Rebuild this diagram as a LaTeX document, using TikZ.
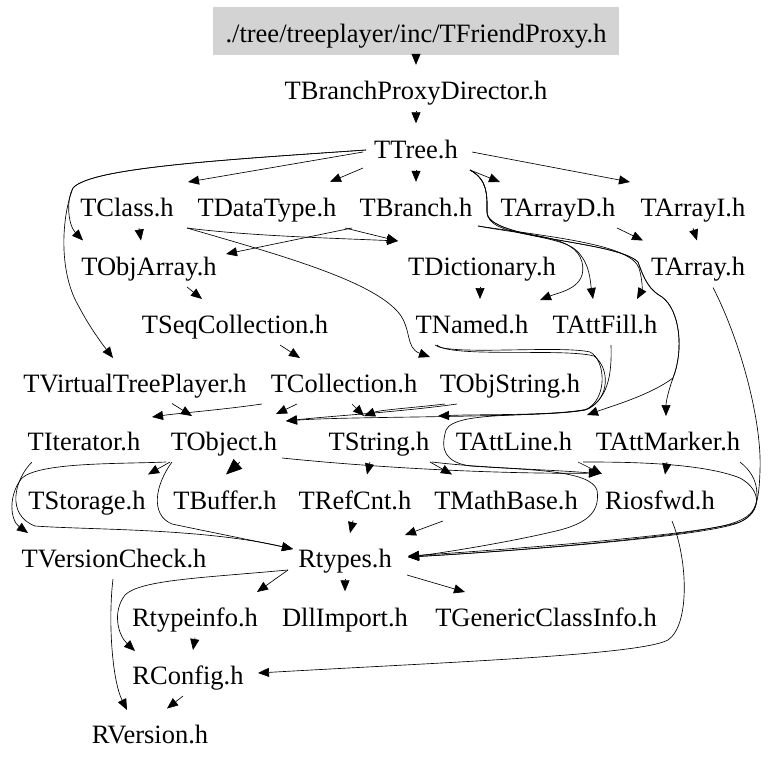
\documentclass[tikz,border=0pt]{standalone}
\usepackage{fontspec}
\setmainfont{Liberation Serif}
\usetikzlibrary{arrows.meta}
\definecolor{rootgray}{RGB}{211,211,211}
\begin{document}
\begin{tikzpicture}[x=1pt,y=-1pt,
  nd/.style={font=\fontsize{26.5}{30}\selectfont, text height=24pt, text depth=0.5pt, inner ysep=10.75pt, inner xsep=3pt},
  e/.style={draw, line width=0.65pt, -{Triangle[length=11pt,width=9pt]}},
  eb/.style={draw, line width=0.65pt, -{Triangle[length=16pt,width=13pt]}}]
\fill[white] (0,0) rectangle (775,763);
\useasboundingbox (0,0) rectangle (775,763);
\node[fill=rootgray, font=\fontsize{26.5}{30}\selectfont, text height=24pt, text depth=0.5pt, minimum width=406pt, minimum height=48pt, inner sep=0pt] (root) at (416,31) {./tree/treeplayer/inc/TFriendProxy.h};
\node[nd] (tbpd) at (416,88) {TBranchProxyDirector.h};
\node[nd] (ttree) at (416,146.5) {TTree.h};
\node[nd] (tclass) at (127,205) {TClass.h};
\node[nd] (tdatatype) at (267,205) {TDataType.h};
\node[nd] (tbranch) at (416,205) {TBranch.h};
\node[nd] (tarrayd) at (558,205) {TArrayD.h};
\node[nd] (tarrayi) at (693,205) {TArrayI.h};
\node[nd] (tobjarray) at (149,263.5) {TObjArray.h};
\node[nd] (tdict) at (482,263.5) {TDictionary.h};
\node[nd] (tarray) at (698,263.5) {TArray.h};
\node[nd] (tseq) at (235,322) {TSeqCollection.h};
\node[nd] (tnamed) at (472,322) {TNamed.h};
\node[nd] (tattfill) at (605,322) {TAttFill.h};
\node[nd] (tvtp) at (135,380.5) {TVirtualTreePlayer.h};
\node[nd] (tcoll) at (344,380.5) {TCollection.h};
\node[nd] (tobjstr) at (510,380.5) {TObjString.h};
\node[nd] (titer) at (84,439) {TIterator.h};
\node[nd] (tobject) at (224,439) {TObject.h};
\node[nd] (tstring) at (379,439) {TString.h};
\node[nd] (tattline) at (514,439) {TAttLine.h};
\node[nd] (tattmarker) at (668,439) {TAttMarker.h};
\node[nd] (tstorage) at (87,497.5) {TStorage.h};
\node[nd] (tbuffer) at (225,497.5) {TBuffer.h};
\node[nd] (trefcnt) at (355,497.5) {TRefCnt.h};
\node[nd] (tmathbase) at (506,497.5) {TMathBase.h};
\node[nd] (riosfwd) at (660,497.5) {Riosfwd.h};
\node[nd] (tversion) at (114,556) {TVersionCheck.h};
\node[nd] (rtypes) at (345,556) {Rtypes.h};
\node[nd] (rtypeinfo) at (195,614.5) {Rtypeinfo.h};
\node[nd] (dllimport) at (345,614.5) {DllImport.h};
\node[nd] (tgeneric) at (546,614.5) {TGenericClassInfo.h};
\node[nd] (rconfig) at (188,673) {RConfig.h};
\node[nd] (rversion) at (150,731.5) {RVersion.h};

% edges
\draw[e] (root.south) -- (tbpd.north);
\draw[e] (tbpd.south) -- (ttree.north);
\draw[e] ([shift={(-53,5.5)}]ttree.center) -- ([shift={(61,-23)}]tclass.center);
\draw[e] ([shift={(-53,21.5)}]ttree.center) -- ([shift={(63,-23)}]tdatatype.center);
\draw[e] (ttree.south) -- (tbranch.north);
\draw[e] ([shift={(54,23.5)}]ttree.center) -- ([shift={(-58,-23)}]tarrayd.center);
\draw[e] ([shift={(56,5.5)}]ttree.center) -- ([shift={(-63,-23)}]tarrayi.center);
\draw[e] ([shift={(-50,3.5)}]ttree.center) .. controls (220,160) and (90,168) .. (73,188) .. controls (66,200) and (68,225) .. ([shift={(-66,-23)}]tobjarray.center);
\draw[e] ([shift={(-50,3.5)}]ttree.center) .. controls (220,160) and (90,168) .. (73,188) .. controls (62,215) and (58,270) .. (78,305) .. controls (90,328) and (103,345) .. ([shift={(-22,-22.5)}]tvtp.center);
\draw[e] ([shift={(12,23)}]tclass.center) -- ([shift={(-8,-23)}]tobjarray.center);
\draw[e] ([shift={(60,23)}]tclass.center) .. controls (250,236) and (330,238) .. ([shift={(-84,-22.5)}]tdict.center);
\draw[e] ([shift={(60,23)}]tclass.center) .. controls (280,255) and (370,280) .. (398,312) .. controls (412,328) and (405,348) .. ([shift={(-80,-23.5)}]tobjstr.center);
\draw[e] ([shift={(-64,23)}]tbranch.center) -- ([shift={(77,-9.5)}]tobjarray.center);
\draw[e] ([shift={(78,23)}]tdatatype.center) -- ([shift={(-84,-22.5)}]tdict.center);
\draw[e] ([shift={(-2,23)}]tdict.center) -- ([shift={(8,-23)}]tnamed.center);
\draw[e] ([shift={(59,23)}]tarrayd.center) -- ([shift={(-55,-23)}]tarray.center);
\draw[e] (tarrayi.south) -- ([shift={(-1,-23)}]tarray.center);
\draw[e] ([shift={(38,23.5)}]tobjarray.center) -- ([shift={(-33,-23)}]tseq.center);
\draw[e] ([shift={(45,23)}]tseq.center) -- ([shift={(-44,-22.5)}]tcoll.center);
\draw[e] ([shift={(54,23.5)}]ttree.center) .. controls (488,180) and (487,195) .. (487,212) .. controls (487,238) and (560,232) .. (578,252) .. controls (590,265) and (590,280) .. ([shift={(-12,-23)}]tattfill.center);
\draw[e] ([shift={(62,21)}]tbranch.center) .. controls (530,236) and (575,235) .. (582,262) .. controls (588,288) and (560,292) .. ([shift={(68,-22)}]tnamed.center);
\draw[e] ([shift={(62,21)}]tbranch.center) .. controls (560,238) and (630,245) .. (639,268) .. controls (643,282) and (642,290) .. ([shift={(32,-23)}]tattfill.center);
\draw[e] ([shift={(54,23.5)}]ttree.center) .. controls (488,180) and (487,195) .. (487,212) .. controls (487,240) and (615,240) .. (638,262) .. controls (645,282) and (650,290) .. (662,297) .. controls (680,310) and (684,350) .. (673,378) .. controls (668,392) and (666,402) .. ([shift={(-2,-23)}]tattmarker.center);
\draw[e] ([shift={(54,23.5)}]ttree.center) .. controls (488,180) and (487,195) .. (487,212) .. controls (487,240) and (615,240) .. (638,262) .. controls (645,282) and (650,290) .. (662,297) .. controls (680,310) and (684,350) .. (673,378) .. controls (650,395) and (615,405) .. ([shift={(73,-24)}]tattline.center);
\draw[e] ([shift={(37,23)}]tvtp.center) -- ([shift={(-32,-23)}]tobject.center);
\draw[e] ([shift={(-82,23.5)}]tcoll.center) .. controls (220,410) and (180,413) .. ([shift={(68,-22)}]titer.center);
\draw[e] ([shift={(-47,23.5)}]tcoll.center) -- ([shift={(52,-25)}]tobject.center);
\draw[e] ([shift={(8,23.5)}]tcoll.center) -- ([shift={(-15,-23)}]tstring.center);
\draw[e] ([shift={(-65,23.5)}]tobjstr.center) .. controls (410,408) and (380,410) .. ([shift={(-15,-23)}]tstring.center);
\draw[e] ([shift={(-53,23.5)}]tobjstr.center) .. controls (400,412) and (330,416) .. ([shift={(62,-18)}]tobject.center);
\draw[e] ([shift={(-37,23)}]tnamed.center) .. controls (448,356) and (560,345) .. (590,352) .. controls (606,360) and (608,400) .. (585,410) .. controls (540,418) and (350,416) .. ([shift={(62,-18)}]tobject.center);
\draw[e] ([shift={(-35,23)}]tnamed.center) .. controls (450,358) and (565,348) .. (594,356) .. controls (610,368) and (610,398) .. (588,409) .. controls (555,416) and (480,414) .. ([shift={(59,-23)}]tstring.center);
\draw[e] ([shift={(6,23)}]tattfill.center) .. controls (612,375) and (608,400) .. (585,410) .. controls (540,418) and (455,410) .. (446,430) .. controls (440,450) and (445,462) .. (470,466) .. controls (530,470) and (590,470) .. (597,490) .. controls (600,510) and (590,522) .. (560,530) .. controls (520,540) and (450,552) .. ([shift={(63,1)}]rtypes.center);
\draw[e] ([shift={(69,23)}]tattline.center) .. controls (620,462) and (700,462) .. (740,478) .. controls (762,490) and (762,512) .. (740,522) .. controls (700,535) and (500,550) .. ([shift={(63,0)}]rtypes.center);
\draw[e] ([shift={(72,23)}]tattmarker.center) .. controls (750,470) and (757,480) .. (757,495) .. controls (757,510) and (750,518) .. (730,524) .. controls (680,538) and (500,552) .. ([shift={(63,1)}]rtypes.center);
\draw[e] ([shift={(15,24)}]tarray.center) .. controls (740,340) and (762,420) .. (760,470) .. controls (759,505) and (755,517) .. (735,524) .. controls (690,538) and (500,552) .. ([shift={(63,1)}]rtypes.center);
\draw[e] ([shift={(-1,23)}]tattmarker.center) -- ([shift={(5,-23)}]riosfwd.center);
\draw[e] ([shift={(58,19)}]tobject.center) .. controls (400,470) and (520,474) .. ([shift={(-60,-24.5)}]riosfwd.center);
\draw[e] ([shift={(-9,23)}]tstring.center) -- ([shift={(12,-23)}]trefcnt.center);
\draw[e] ([shift={(51,23)}]tstring.center) -- ([shift={(-54,-23)}]tmathbase.center);
\draw[e] ([shift={(53,23)}]tstring.center) .. controls (480,468) and (560,470) .. ([shift={(-60,-23.5)}]riosfwd.center);
\draw[e] ([shift={(64,23)}]tattline.center) -- ([shift={(-58,-23.5)}]riosfwd.center);
\draw[e] ([shift={(-63,23.5)}]tmathbase.center) -- ([shift={(60,-21)}]rtypes.center);
\draw[e] ([shift={(-2,23)}]trefcnt.center) -- ([shift={(5,-23)}]rtypes.center);
\draw[e] ([shift={(-52,23)}]tobject.center) .. controls (155,485) and (150,515) .. (172,524) .. controls (210,532) and (260,542) .. ([shift={(-52,-7)}]rtypes.center);
\draw[e] ([shift={(-54,23)}]tobject.center) -- ([shift={(61,-23)}]tstorage.center);
\draw[e] ([shift={(-58,23)}]tobject.center) .. controls (120,464) and (40,462) .. (22,478) .. controls (8,495) and (10,520) .. ([shift={(-86,-23)}]tversion.center);
\draw[e] ([shift={(-52,23)}]titer.center) .. controls (14,480) and (6,515) .. (35,526) .. controls (90,530) and (200,528) .. ([shift={(-52,-7)}]rtypes.center);
\draw[eb] ([shift={(16,23)}]tobject.center) -- ([shift={(1,-23)}]tbuffer.center);
\draw[e] ([shift={(-57,14)}]rtypes.center) -- ([shift={(62,-22.5)}]rtypeinfo.center);
\draw[e] (rtypes.south) -- (dllimport.north);
\draw[e] ([shift={(62,19)}]rtypes.center) -- ([shift={(-81,-22.5)}]tgeneric.center);
\draw[e] ([shift={(-57,14)}]rtypes.center) .. controls (200,578) and (140,580) .. (125,595) .. controls (112,612) and (118,635) .. ([shift={(-53,-22)}]rconfig.center);
\draw[e] (rtypeinfo.south) -- ([shift={(5,-23)}]rconfig.center);
\draw[e] ([shift={(12,23.5)}]riosfwd.center) .. controls (688,560) and (690,625) .. (668,640) .. controls (640,655) and (450,662) .. ([shift={(70,0)}]rconfig.center);
\draw[e] ([shift={(-5,23)}]rconfig.center) -- ([shift={(17,-23)}]rversion.center);
\draw[e] ([shift={(-1,23)}]tversion.center) .. controls (108,620) and (112,680) .. ([shift={(-23,-21.5)}]rversion.center);
\end{tikzpicture}
\end{document}
